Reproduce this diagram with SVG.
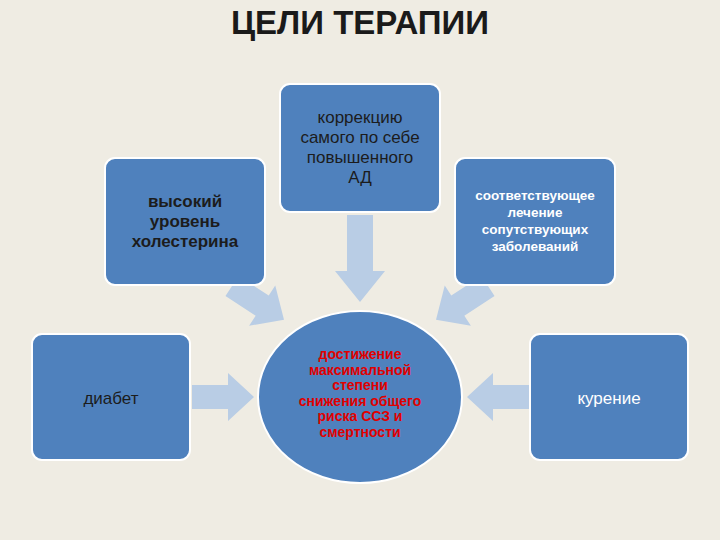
<svg xmlns="http://www.w3.org/2000/svg" width="720" height="540" viewBox="0 0 720 540">
<style>
.box{fill:#4f81bd;stroke:#ffffff;stroke-width:2}
.arr{fill:#b9cde5}
.t{font-family:"Liberation Sans",Arial,sans-serif;text-anchor:middle}
.dk{fill:#1c1c1c;font-size:17px}
.wh{fill:#ffffff}
.rd{fill:#e00000;font-size:14px;font-weight:bold}
</style>
<defs>
<path id="a" d="M0,-12 H36 V-24 L62,0 L36,24 V12 H0 Z"/>
</defs>
<rect width="720" height="540" fill="#efece3"/>
<text class="t" x="360" y="34" font-size="33" font-weight="bold" fill="#1a1a1a">ЦЕЛИ ТЕРАПИИ</text>
<g id="connectors">
<use href="#a" class="arr" transform="translate(192,397)"/>
<use href="#a" class="arr" transform="translate(529,397) rotate(180)"/>
<path class="arr" d="M0,-13 H56 V-25 L87,0 L56,25 V13 H0 Z" transform="translate(360,215) rotate(90)"/>
<use href="#a" class="arr" transform="translate(232,286) rotate(33)"/>
<use href="#a" class="arr" transform="translate(488,286) rotate(147)"/>
</g>
<g id="n1"><rect class="box" x="105" y="158" width="160" height="127" rx="10"/>
<text class="t dk" font-weight="bold" x="185" y="207"><tspan x="185">высокий</tspan><tspan x="185" dy="20">уровень</tspan><tspan x="185" dy="20">холестерина</tspan></text></g>
<g id="n2"><rect class="box" x="280" y="84" width="160" height="128" rx="10"/>
<text class="t dk" x="360" y="123"><tspan x="360">коррекцию</tspan><tspan x="360" dy="20">самого по себе</tspan><tspan x="360" dy="20">повышенного</tspan><tspan x="360" dy="20">АД</tspan></text></g>
<g id="n3"><rect class="box" x="455" y="158" width="160" height="127" rx="10"/>
<text class="t wh" font-size="13.5" font-weight="bold" x="535" y="200"><tspan x="535">соответствующее</tspan><tspan x="535" dy="17">лечение</tspan><tspan x="535" dy="17">сопутствующих</tspan><tspan x="535" dy="17">заболеваний</tspan></text></g>
<g id="n4"><rect class="box" x="32" y="334" width="158" height="126" rx="10"/>
<text class="t dk" x="111" y="404">диабет</text></g>
<g id="n5"><rect class="box" x="530" y="334" width="158" height="126" rx="10"/>
<text class="t wh" font-size="17" x="609" y="404">курение</text></g>
<g id="n6"><ellipse class="box" cx="360" cy="397" rx="102" ry="86"/>
<text class="t rd" x="360" y="359"><tspan x="360">достижение</tspan><tspan x="360" dy="15.5">максимальной</tspan><tspan x="360" dy="15.5">степени</tspan><tspan x="360" dy="15.5">снижения общего</tspan><tspan x="360" dy="15.5">риска ССЗ и</tspan><tspan x="360" dy="15.5">смертности</tspan></text></g>
</svg>
